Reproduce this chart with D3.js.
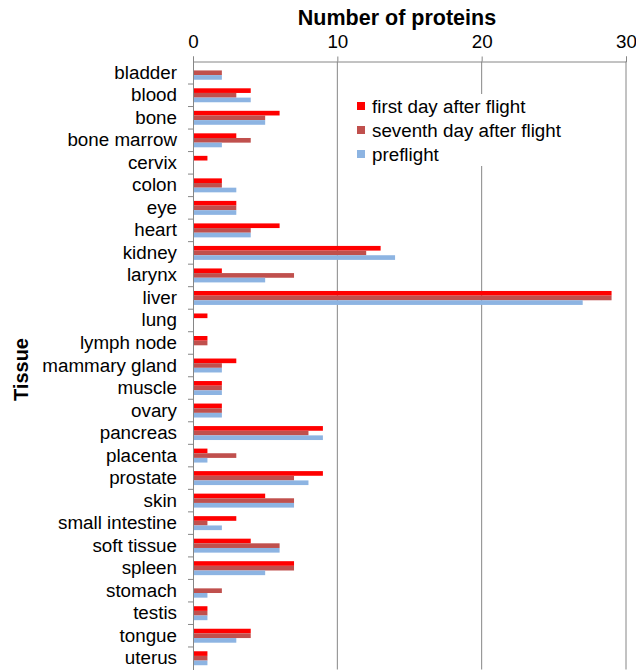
<!DOCTYPE html>
<html>
<head>
<meta charset="utf-8">
<script src="https://cdn.jsdelivr.net/npm/d3@7/dist/d3.min.js"></script>
<style>
  body { margin: 0; background: #fff; }
  svg { display: block; font-family: "Liberation Sans", Arial, sans-serif; }
</style>
</head>
<body>
<svg id="chart" width="636" height="670"></svg>
<script>
const tissues = ["bladder", "blood", "bone", "bone marrow", "cervix", "colon", "eye", "heart",
  "kidney", "larynx", "liver", "lung", "lymph node", "mammary gland", "muscle", "ovary",
  "pancreas", "placenta", "prostate", "skin", "small intestine", "soft tissue", "spleen",
  "stomach", "testis", "tongue", "uterus"];

const seriesNames = ["first day after flight", "seventh day after flight", "preflight"];
const seriesColors = ["#FF0000", "#C0504D", "#8DB4E2"];

const firstDay   = [0, 4, 6, 3, 1, 2, 3, 6, 13, 2, 29, 1, 1, 3, 2, 2, 9, 1, 9, 5, 3, 4, 7, 0, 1, 4, 1];
const seventhDay = [2, 3, 5, 4, 0, 2, 3, 4, 12, 7, 29, 0, 1, 2, 2, 2, 8, 3, 7, 7, 1, 6, 7, 2, 1, 4, 1];
const preflight  = [2, 4, 5, 2, 0, 3, 3, 4, 14, 5, 27, 0, 0, 2, 2, 2, 9, 1, 8, 7, 2, 6, 5, 1, 1, 3, 1];

const xTicks = [0, 10, 20, 30];

const seriesValues = [firstDay, seventhDay, preflight];

const svg = d3.select("#chart");
const plotLeft = 193, plotRight = 626, plotTop = 61.5, plotBottom = 669.5;
const labelSize = 18.8;
const fontFamily = "'Liberation Sans', Arial, sans-serif";

const x = d3.scaleLinear().domain([0, 30]).range([plotLeft, plotRight]);
const y = d3.scaleBand().domain(tissues).range([plotTop, plotBottom]).paddingInner(0.38).paddingOuter(0.19);
const ySub = d3.scaleBand().domain(d3.range(seriesNames.length)).range([0, y.bandwidth()]);

const gridColor = "#868686";

// vertical gridlines
svg.append("g").selectAll("line")
  .data(xTicks.filter(d => d > 0))
  .join("line")
  .attr("x1", d => x(d)).attr("x2", d => x(d))
  .attr("y1", plotTop).attr("y2", plotBottom)
  .attr("stroke", gridColor).attr("stroke-width", 1);

// bars
const rows = tissues.map((t, i) => ({ tissue: t, vals: seriesValues.map(s => s[i]) }));
const groups = svg.append("g").selectAll("g")
  .data(rows).join("g")
  .attr("transform", d => `translate(0,${y(d.tissue)})`);
groups.selectAll("rect")
  .data(d => d.vals.map((v, k) => ({ v, k })))
  .join("rect")
  .attr("x", x(0))
  .attr("y", d => ySub(d.k))
  .attr("width", d => x(d.v) - x(0))
  .attr("height", ySub.bandwidth())
  .attr("fill", d => seriesColors[d.k]);

// top value axis
const xAxis = d3.axisTop(x).tickValues(xTicks).tickSize(5).tickPadding(9);
const gx = svg.append("g").attr("transform", `translate(0,${plotTop})`).call(xAxis);
gx.select(".domain").attr("stroke", gridColor);
gx.selectAll(".tick line").attr("stroke", gridColor);
gx.selectAll(".tick text").attr("font-size", labelSize).attr("fill", "#000")
  .attr("font-family", fontFamily);

// left category axis
const yAxis = d3.axisLeft(y).tickSize(0).tickPadding(16);
const gy = svg.append("g").attr("transform", `translate(${plotLeft},0)`).call(yAxis);
gy.select(".domain").attr("stroke", gridColor);
gy.selectAll(".tick text").attr("font-size", labelSize).attr("fill", "#000")
  .attr("font-family", fontFamily);
// tick marks between categories
svg.append("g").selectAll("line")
  .data(tissues.slice(1))
  .join("line")
  .attr("x1", plotLeft - 5).attr("x2", plotLeft)
  .attr("y1", d => y(d) - y.step() * y.paddingInner() / 2)
  .attr("y2", d => y(d) - y.step() * y.paddingInner() / 2)
  .attr("stroke", gridColor);

// axis titles
svg.append("text")
  .attr("x", 397).attr("y", 25)
  .attr("text-anchor", "middle").attr("font-size", 21.5).attr("font-weight", "bold")
  .text("Number of proteins");
svg.append("text")
  .attr("transform", `translate(28,${(plotTop + plotBottom) / 2 + 4}) rotate(-90)`)
  .attr("text-anchor", "middle").attr("font-size", 20).attr("font-weight", "bold")
  .text("Tissue");

// legend
const legend = svg.append("g").attr("transform", "translate(352,94)");
legend.append("rect").attr("width", 218).attr("height", 72).attr("fill", "#fff");
const items = legend.selectAll("g.item")
  .data(seriesNames).join("g").attr("class", "item")
  .attr("transform", (d, i) => `translate(0,${12 + i * 24})`);
items.append("rect").attr("x", 5).attr("y", -4).attr("width", 8).attr("height", 8)
  .attr("fill", (d, i) => seriesColors[i]);
items.append("text").attr("x", 20).attr("y", 0).attr("dy", "0.35em")
  .attr("font-size", labelSize).attr("fill", "#000").text(d => d);
</script>
</body>
</html>
